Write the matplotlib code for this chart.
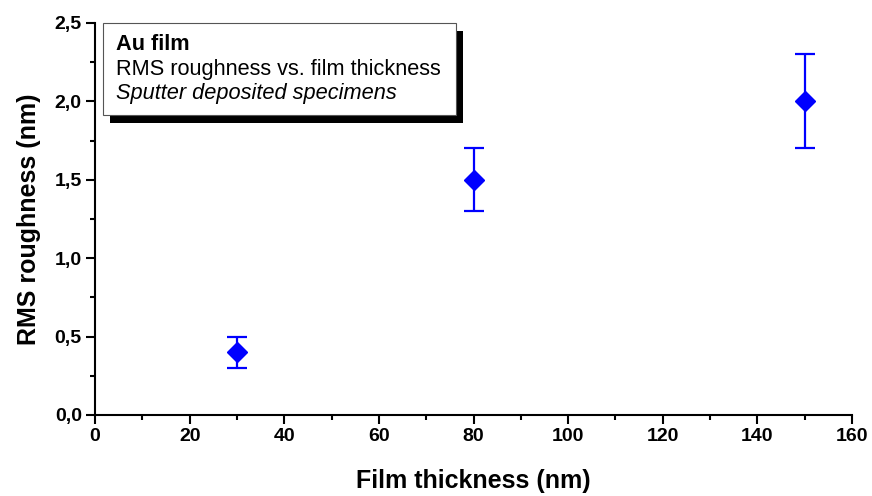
import matplotlib.pyplot as plt
from matplotlib.patches import Rectangle
from matplotlib.ticker import MultipleLocator, FuncFormatter

plt.rcParams['font.family'] = ['Liberation Sans', 'DejaVu Sans']

# Au film: RMS roughness measured on sputter deposited specimens
thickness = [30, 80, 150]
roughness = [0.4, 1.5, 2.0]
roughness_err = [0.1, 0.2, 0.3]

box_lines = ['Au film', 'RMS roughness vs. film thickness', 'Sputter deposited specimens']

fig = plt.figure(figsize=(8.72, 4.96), dpi=100)
ax = fig.add_axes([95 / 872, 81 / 496, 757 / 872, 392 / 496])

ax.errorbar(thickness, roughness, yerr=roughness_err, fmt='D', color='#0000ff',
            markersize=10, elinewidth=1.6, capsize=7.3, capthick=1.6,
            clip_on=False, zorder=3)

ax.set_xlim(0, 160)
ax.set_ylim(0, 2.5)

ax.xaxis.set_major_locator(MultipleLocator(20))
ax.xaxis.set_minor_locator(MultipleLocator(10))
ax.yaxis.set_major_locator(MultipleLocator(0.5))
ax.yaxis.set_minor_locator(MultipleLocator(0.25))
ax.yaxis.set_major_formatter(FuncFormatter(lambda v, p: f'{v:.1f}'.replace('.', ',')))

for side in ['top', 'right']:
    ax.spines[side].set_visible(False)
for side in ['left', 'bottom']:
    ax.spines[side].set_linewidth(1.5)

ax.tick_params(which='major', direction='out', length=6.5, width=1.5, labelsize=14, pad=3)
ax.tick_params(which='minor', direction='out', length=3.5, width=1.5)
for lbl in ax.get_xticklabels() + ax.get_yticklabels():
    lbl.set_fontweight('bold')

ax.set_xlabel('Film thickness (nm)', fontsize=18, fontweight='bold', labelpad=17)
ax.set_ylabel('RMS roughness (nm)', fontsize=18, fontweight='bold', labelpad=10)

# annotation box with a drop shadow
bx0, by0 = (103 - 95) / 757, (415 - 115) / 392
bw, bh = (456 - 103) / 757, (115 - 22.5) / 392
dx, dy = 7 / 757, 8 / 392
ax.add_patch(Rectangle((bx0 + dx, by0 - dy), bw, bh, transform=ax.transAxes,
                       facecolor='black', edgecolor='none', clip_on=False, zorder=4))
ax.add_patch(Rectangle((bx0, by0), bw, bh, transform=ax.transAxes,
                       facecolor='white', edgecolor='#555555', linewidth=0.8,
                       clip_on=False, zorder=5))

styles = [dict(fontweight='bold'), dict(), dict(fontstyle='italic')]
baselines = [50, 75, 99]
for text, base, st in zip(box_lines, baselines, styles):
    ax.text((116 - 95) / 757, (415 - base) / 392, text, transform=ax.transAxes,
            fontsize=15.7, va='baseline', ha='left', zorder=6, **st)

fig.savefig('out.png', dpi=100)
